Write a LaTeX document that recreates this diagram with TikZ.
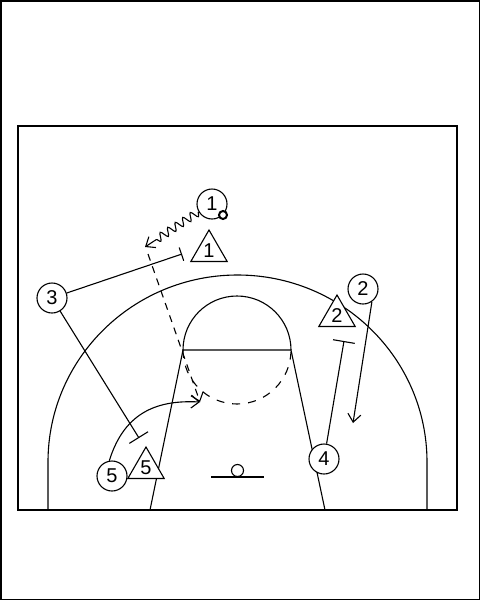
\documentclass[tikz,border=0pt]{standalone}
\usepackage{fontspec}
\setmainfont{Liberation Sans}
\usetikzlibrary{arrows.meta, decorations.pathmorphing, shapes.geometric}

\tikzset{
    player/.style = {circle, draw, fill = white, minimum size = 30pt, inner sep = 0pt, font = \fontsize{20}{20}\selectfont},
    guard/.style = {regular polygon, regular polygon sides = 3, draw, fill = white, minimum size = 42pt, inner sep = 0pt, font = \fontsize{20}{20}\selectfont},
    cutline/.style = {-{Straight Barb[length = 8pt, width = 13pt]}},
    screenline/.style = {-{Bar[width = #1]}},
    screenline/.default = 22pt,
    dribble/.style = {cutline, decorate, decoration = {snake, amplitude = 4pt, segment length = 9pt, post length = 10pt}}
}

\begin{document}
\begin{tikzpicture}[x = 1pt, y = -1pt, line width = 1.1pt]
        \useasboundingbox (0, 0) rectangle (480, 600);
        \draw[line width = 1.5pt] (0.75, 0.75) rectangle (479.25, 599.25);
        \draw[line width = 1.5pt] (18, 126) rectangle (457, 510);
        \draw[] (48, 510) -- (48, 462) arc[start angle = 180, end angle = 360, x radius = 189.5, y radius = 187] -- (427, 510);
        \draw[] (150, 510) -- (183, 350) -- (291, 350) -- (325, 510);
        \draw[] (183, 350) arc[start angle = 180, end angle = 360, radius = 54];
        \draw[dash pattern = on 8pt off 8pt] (183, 350) arc[start angle = 180, end angle = 0, radius = 54];
        \draw[] (211, 477) -- (264, 477);
        \draw[] (237.5, 470.5) circle (6pt);

        \node[player] (p1) at (212, 204) {1};
        \node[player] (p2) at (363, 289) {2};
        \node[player] (p3) at (52, 298) {3};
        \node[player] (p4) at (324, 459) {4};
        \node[player] (p5) at (112, 476) {5};
        \node[guard] (d1) at (209, 251) {1};
        \node[guard] (d2) at (337, 316) {2};
        \node[guard] (d5) at (146, 468) {5};
        \draw[line width = 2pt, fill = white] (p1.-45) circle (4pt);

        \coordinate (drib) at (145, 247);
        \coordinate (pass0) at (148, 254);
        \coordinate (catch) at (200, 402);
        \coordinate (scr1) at (182, 254);
        \coordinate (scr3) at (139, 438);
        \coordinate (scr4) at (344, 341);
        \coordinate (cut2) at (353, 423);

        \draw[dribble] (p1.210) -- (drib);
        \draw[cutline, dash pattern = on 7pt off 6pt] (pass0) -- (catch);
        \draw[screenline = 14pt] (p3) -- (scr1);
        \draw[screenline] (p3) -- (scr3);
        \draw[cutline] (p5.100) .. controls (125, 410) and (160, 400) .. (catch);
        \draw[cutline] (p2.-55) -- (cut2);
        \draw[screenline] (p4) -- (scr4);
    \end{tikzpicture}
\end{document}
